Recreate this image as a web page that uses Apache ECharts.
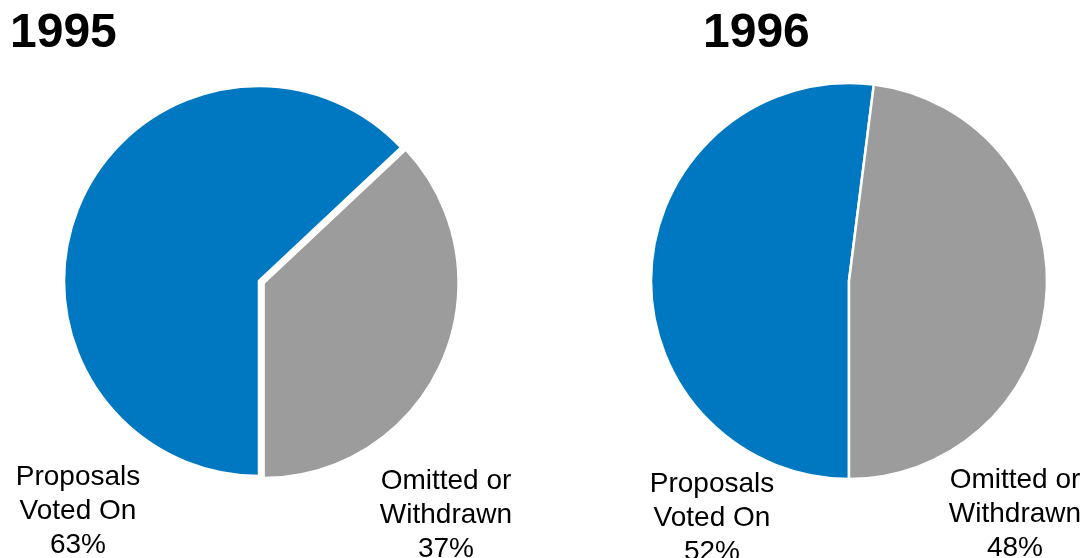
<!DOCTYPE html>
<html>
<head>
<meta charset="utf-8">
<script src="https://cdn.jsdelivr.net/npm/echarts@6/dist/echarts.min.js"></script>
<style>
  html, body { margin: 0; padding: 0; background: #fff; }
  #chart { width: 1088px; height: 558px; }
</style>
</head>
<body>
<div id="chart"></div>
<script>
// Shareholder proposals by outcome, per year
const years = ['1995', '1996'];
const categories = ['Proposals Voted On', 'Omitted or Withdrawn'];
const categoryLines = [['Proposals', 'Voted On'], ['Omitted or', 'Withdrawn']];
const votedOn = [63, 52];
const omitted = [37, 48];
const colors = ['#0078C1', '#9C9C9C'];

const chart = echarts.init(document.getElementById('chart'), null, { renderer: 'canvas' });

const FONT = 'Liberation Sans, Arial, sans-serif';

// Pie geometry per year
const pieLayout = [
  { center: [259, 281], radius: 195, explode: true },
  { center: [849, 281], radius: 198, explode: false }
];

// Label anchor points per year: [voted-on label, omitted label]
const labelLayout = [
  [{ x: 78, y: 511 }, { x: 446, y: 515 }],
  [{ x: 712, y: 518 }, { x: 1015, y: 514 }]
];
const titleLayout = [{ x: 10, y: 34 }, { x: 703, y: 34 }];

const series = years.map((yr, i) => ({
  type: 'pie',
  name: yr,
  center: pieLayout[i].center,
  radius: pieLayout[i].radius,
  startAngle: 270,
  clockwise: true,
  selectedMode: pieLayout[i].explode ? 'single' : false,
  selectedOffset: 5,
  animation: false,
  silent: true,
  label: { show: false },
  labelLine: { show: false },
  itemStyle: { borderColor: '#fff', borderWidth: pieLayout[i].explode ? 2.5 : 2.5 },
  emphasis: { disabled: true },
  data: [
    { name: categories[0], value: votedOn[i], itemStyle: { color: colors[0] } },
    { name: categories[1], value: omitted[i], itemStyle: { color: colors[1] },
      selected: pieLayout[i].explode }
  ]
}));

const graphics = [];
years.forEach((yr, i) => {
  graphics.push({
    type: 'text', left: titleLayout[i].x, top: titleLayout[i].y - 24,
    style: { text: yr, font: 'bold 48px ' + FONT, fill: '#000' }
  });
  const vals = [votedOn[i], omitted[i]];
  vals.forEach((v, k) => {
    graphics.push({
      type: 'text', x: labelLayout[i][k].x, y: labelLayout[i][k].y,
      style: {
        text: categoryLines[k].concat([v + '%']).join('\n'),
        font: '28px ' + FONT,
        lineHeight: 34,
        fill: '#000',
        align: 'center',
        verticalAlign: 'middle'
      }
    });
  });
});

chart.setOption({
  backgroundColor: '#fff',
  animation: false,
  series: series,
  graphic: graphics
});
</script>
</body>
</html>
